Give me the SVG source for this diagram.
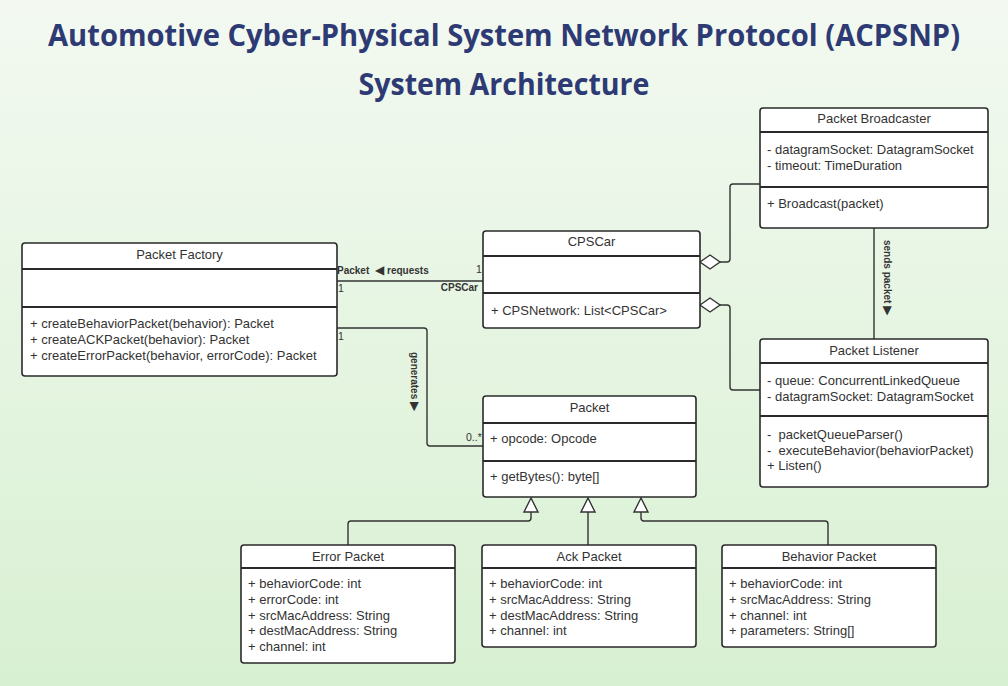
<svg xmlns="http://www.w3.org/2000/svg" width="1008" height="686" viewBox="0 0 1008 686">
<defs>
<linearGradient id="bg" x1="0" y1="0" x2="0" y2="1">
<stop offset="0" stop-color="#f3f9f1"/>
<stop offset="1" stop-color="#d8f0d2"/>
</linearGradient>
<style>
.box{fill:#ffffff;stroke:#2a2a2a;stroke-width:1.6}
.sep{stroke:#2a2a2a;stroke-width:2}
.t{font-family:"Liberation Sans",Arial,sans-serif;font-size:13px;fill:#333333}
.h{text-anchor:middle}
.lbl{font-family:"Liberation Sans",Arial,sans-serif;font-size:10px;font-weight:bold;fill:#333333}
.ar{font-family:"DejaVu Sans",sans-serif;font-size:12px}
.m{font-family:"Liberation Sans",Arial,sans-serif;font-size:10.5px;fill:#333333}
.c{fill:none;stroke:#333333;stroke-width:1.4}
.title{font-family:"Open Sans","Noto Sans",sans-serif;font-weight:bold;font-size:30px;fill:#2d3a74;text-anchor:middle}
</style>
</defs>
<rect x="0" y="0" width="1008" height="686" fill="url(#bg)"/>
<text class="title" x="504" y="46" textLength="912" lengthAdjust="spacingAndGlyphs">Automotive Cyber-Physical System Network Protocol (ACPSNP)</text>
<text class="title" x="504" y="95" textLength="291" lengthAdjust="spacingAndGlyphs">System Architecture</text>

<g id="connectors">
<path class="c" d="M337 281 H483"/>
<path class="c" d="M337 328 H424 Q427 328 427 331 V443 Q427 446 430 446 H483"/>
<path class="c" d="M720 262 H727 Q730 262 730 259 V187 Q730 184 733 184 H760"/>
<polygon points="700,262 710,255 720,262 710,269" fill="#ffffff" stroke="#333333" stroke-width="1.4"/>
<path class="c" d="M720 305 H727 Q730 305 730 308 V387 Q730 390 733 390 H760"/>
<polygon points="700,305 710,298 720,305 710,312" fill="#ffffff" stroke="#333333" stroke-width="1.4"/>
<path class="c" d="M874 228 V339"/>
<path class="c" d="M348 545 V524 Q348 521 351 521 H528 Q531 521 531 518 V512"/>
<path class="c" d="M588 545 V512"/>
<path class="c" d="M828 545 V524 Q828 521 825 521 H644 Q641 521 641 518 V512"/>
<polygon points="531,498 524,512 538,512" fill="#ffffff" stroke="#333333" stroke-width="1.4"/>
<polygon points="588,498 581,512 595,512" fill="#ffffff" stroke="#333333" stroke-width="1.4"/>
<polygon points="641,498 634,512 648,512" fill="#ffffff" stroke="#333333" stroke-width="1.4"/>
<text class="lbl" x="337" y="274">Packet</text>
<text class="lbl" x="375" y="274"><tspan class="ar">◀</tspan> requests</text>
<text class="m" x="476" y="273">1</text>
<text class="m" x="338" y="292">1</text>
<text class="lbl" x="478" y="291" text-anchor="end">CPSCar</text>
<text class="m" x="338" y="340">1</text>
<text class="lbl" transform="translate(411,352) rotate(90)">generates <tspan class="ar">▶</tspan></text>
<text class="m" x="466" y="441">0..*</text>
<text class="lbl" transform="translate(884,240) rotate(90)">sends packet <tspan class="ar">▶</tspan></text>
</g>

<g id="packet-factory">
<rect class="box" x="22" y="243" width="315" height="133" rx="3"/>
<line class="sep" x1="22" y1="269" x2="337" y2="269"/>
<line class="sep" x1="22" y1="307" x2="337" y2="307"/>
<text class="t h" x="179.5" y="259">Packet Factory</text>
<text class="t" x="30" y="328">+ createBehaviorPacket(behavior): Packet</text>
<text class="t" x="30" y="344">+ createACKPacket(behavior): Packet</text>
<text class="t" x="30" y="360">+ createErrorPacket(behavior, errorCode): Packet</text>
</g>

<g id="cpscar">
<rect class="box" x="483" y="231" width="217" height="97" rx="3"/>
<line class="sep" x1="483" y1="256" x2="700" y2="256"/>
<line class="sep" x1="483" y1="293" x2="700" y2="293"/>
<text class="t h" x="591.5" y="246">CPSCar</text>
<text class="t" x="491" y="315">+ CPSNetwork: List&lt;CPSCar&gt;</text>
</g>

<g id="packet-broadcaster">
<rect class="box" x="760" y="108" width="228" height="120" rx="3"/>
<line class="sep" x1="760" y1="132" x2="988" y2="132"/>
<line class="sep" x1="760" y1="187" x2="988" y2="187"/>
<text class="t h" x="874" y="123">Packet Broadcaster</text>
<text class="t" x="767" y="154">- datagramSocket: DatagramSocket</text>
<text class="t" x="767" y="170">- timeout: TimeDuration</text>
<text class="t" x="767" y="208">+ Broadcast(packet)</text>
</g>

<g id="packet-listener">
<rect class="box" x="760" y="339" width="228" height="148" rx="3"/>
<line class="sep" x1="760" y1="363" x2="988" y2="363"/>
<line class="sep" x1="760" y1="416" x2="988" y2="416"/>
<text class="t h" x="874" y="355">Packet Listener</text>
<text class="t" x="767" y="385">- queue: ConcurrentLinkedQueue</text>
<text class="t" x="767" y="401">- datagramSocket: DatagramSocket</text>
<text class="t" x="767" y="439" xml:space="preserve">-  packetQueueParser()</text>
<text class="t" x="767" y="455" xml:space="preserve">-  executeBehavior(behaviorPacket)</text>
<text class="t" x="767" y="470">+ Listen()</text>
</g>

<g id="packet">
<rect class="box" x="483" y="396" width="213" height="101" rx="3"/>
<line class="sep" x1="483" y1="423" x2="696" y2="423"/>
<line class="sep" x1="483" y1="461" x2="696" y2="461"/>
<text class="t h" x="589.5" y="412">Packet</text>
<text class="t" x="490" y="443">+ opcode: Opcode</text>
<text class="t" x="490" y="481">+ getBytes(): byte[]</text>
</g>

<g id="error-packet">
<rect class="box" x="241" y="545" width="214" height="118" rx="3"/>
<line class="sep" x1="241" y1="568" x2="455" y2="568"/>
<text class="t h" x="348" y="561">Error Packet</text>
<text class="t" x="248" y="588">+ behaviorCode: int</text>
<text class="t" x="248" y="604">+ errorCode: int</text>
<text class="t" x="248" y="620">+ srcMacAddress: String</text>
<text class="t" x="248" y="635">+ destMacAddress: String</text>
<text class="t" x="248" y="651">+ channel: int</text>
</g>

<g id="ack-packet">
<rect class="box" x="482" y="545" width="214" height="102" rx="3"/>
<line class="sep" x1="482" y1="568" x2="696" y2="568"/>
<text class="t h" x="589" y="561">Ack Packet</text>
<text class="t" x="489" y="588">+ behaviorCode: int</text>
<text class="t" x="489" y="604">+ srcMacAddress: String</text>
<text class="t" x="489" y="620">+ destMacAddress: String</text>
<text class="t" x="489" y="635">+ channel: int</text>
</g>

<g id="behavior-packet">
<rect class="box" x="722" y="545" width="214" height="102" rx="3"/>
<line class="sep" x1="722" y1="568" x2="936" y2="568"/>
<text class="t h" x="829" y="561">Behavior Packet</text>
<text class="t" x="729" y="588">+ behaviorCode: int</text>
<text class="t" x="729" y="604">+ srcMacAddress: String</text>
<text class="t" x="729" y="620">+ channel: int</text>
<text class="t" x="729" y="635">+ parameters: String[]</text>
</g>
</svg>
